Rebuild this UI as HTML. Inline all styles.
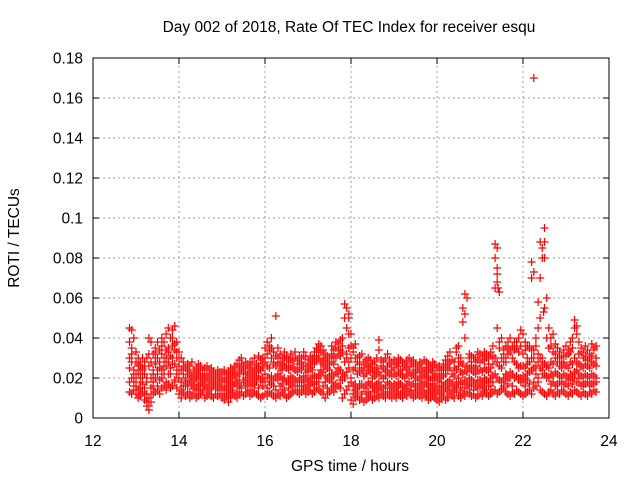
<!DOCTYPE html>
<html><head><meta charset="utf-8"><style>
body{margin:0;background:#fff;}
svg{display:block;font-family:"Liberation Sans",sans-serif;}
</style></head><body>
<svg id="chart" width="640" height="480">
<text x="349" y="32" font-size="15.5" text-anchor="middle">Day 002 of 2018, Rate Of TEC Index for receiver esqu</text>
<text x="350" y="471" font-size="15.5" text-anchor="middle">GPS time / hours</text>
<text transform="translate(19,238) rotate(-90)" font-size="15.5" text-anchor="middle">ROTI / TECUs</text>
<g id="grid"></g><g id="ticks"></g><g id="pts"></g>
<rect x="93" y="58" width="516" height="360" fill="none" stroke="#000" stroke-width="1"/>
</svg>
<script>
const xTicks=[12,14,16,18,20,22,24];
const yTicks=[0,0.02,0.04,0.06,0.08,0.1,0.12,0.14,0.16,0.18];
const yTickLabels=["0","0.02","0.04","0.06","0.08","0.1","0.12","0.14","0.16","0.18"];
const times=[12.85,12.9,12.95];
for(let h=13;h<=23;h++){for(let k=0;k<20;k++){const t=+(h+k*0.05).toFixed(2);if(t<=23.7)times.push(t);}}
const rotiLow=[.013,.012,.014,
.012,.010,.011,.013,.009,.006,.004,.008,.012,.013,.014,.012,.015,.016,.014,.017,.015,.016,.018,.015,
.012,.010,.013,.011,.012,.010,.011,.012,.010,.011,.012,.013,.010,.011,.012,.011,.010,.012,.011,.012,
.010,.009,.011,.008,.010,.012,.011,.010,.012,.013,.011,.012,.013,.011,.012,.013,.012,.011,.010,.011,
.012,.011,.013,.012,.011,.010,.012,.011,.013,.012,.010,.011,.012,.013,.014,.013,.012,.013,.014,.012,
.013,.014,.012,.013,.015,.014,.013,.012,.010,.012,.013,.014,.013,.015,.016,.015,.010,.012,.014,.016,
.009,.007,.010,.011,.009,.010,.008,.009,.010,.011,.009,.010,.011,.010,.012,.011,.010,.012,.011,.010,
.011,.010,.012,.011,.010,.012,.011,.013,.012,.010,.011,.012,.011,.010,.012,.011,.009,.010,.011,.010,
.009,.008,.010,.011,.009,.010,.012,.011,.010,.013,.011,.010,.012,.011,.013,.012,.011,.012,.010,.011,
.012,.011,.013,.012,.011,.012,.013,.014,.012,.013,.014,.015,.013,.012,.011,.013,.012,.014,.013,.012,
.011,.012,.013,.014,.012,.015,.016,.018,.014,.013,.012,.011,.013,.014,.012,.011,.013,.012,.014,.013,
.012,.011,.013,.012,.014,.013,.012,.011,.013,.012,.011,.013,.012,.014,.013];
const rotiMid1=[.030,.020,.018,
.016,.022,.018,.020,.015,.012,.010,.015,.018,.020,.022,.025,.024,.022,.026,.028,.025,.030,.027,.024,
.020,.018,.016,.019,.017,.018,.016,.017,.015,.016,.018,.017,.016,.015,.017,.018,.016,.015,.017,.016,
.015,.016,.014,.015,.017,.016,.018,.017,.019,.016,.018,.020,.019,.017,.018,.020,.018,.021,.019,.020,
.022,.020,.018,.021,.019,.020,.022,.021,.019,.020,.018,.019,.021,.020,.019,.018,.020,.019,.021,.020,
.019,.020,.018,.021,.020,.022,.024,.023,.021,.020,.019,.022,.021,.023,.025,.024,.022,.021,.023,.025,
.018,.016,.017,.015,.016,.017,.015,.016,.018,.017,.015,.016,.017,.018,.016,.015,.016,.018,.017,.016,
.017,.016,.018,.017,.016,.015,.017,.018,.016,.017,.016,.015,.017,.016,.018,.017,.016,.015,.017,.016,
.015,.016,.014,.016,.017,.018,.019,.017,.016,.018,.020,.018,.017,.019,.018,.020,.019,.018,.017,.019,
.019,.018,.020,.019,.018,.020,.021,.022,.020,.019,.018,.020,.022,.021,.023,.022,.020,.021,.019,.020,
.021,.020,.022,.023,.024,.025,.026,.028,.025,.024,.022,.021,.020,.022,.021,.023,.022,.021,.020,.022,
.021,.020,.022,.021,.023,.024,.022,.021,.020,.022,.021,.020,.022,.021,.020];
const rotiMid2=[.038,.028,.024,
.022,.026,.020,.024,.022,.018,.026,.020,.024,.027,.030,.028,.032,.030,.034,.033,.031,.036,.034,.030,
.026,.024,.022,.020,.022,.020,.021,.019,.020,.021,.019,.020,.021,.020,.019,.021,.020,.018,.020,.019,
.019,.020,.018,.019,.021,.020,.022,.021,.023,.024,.022,.025,.023,.021,.024,.025,.023,.026,.024,.025,
.028,.026,.025,.030,.027,.026,.028,.025,.024,.026,.025,.024,.026,.025,.024,.023,.025,.024,.026,.024,
.023,.025,.024,.027,.029,.030,.028,.027,.026,.025,.024,.028,.027,.030,.032,.031,.033,.028,.032,.035,
.030,.024,.025,.022,.023,.024,.021,.022,.024,.023,.020,.021,.022,.023,.021,.020,.021,.023,.022,.021,
.022,.021,.023,.022,.021,.020,.022,.023,.021,.022,.020,.019,.021,.020,.022,.021,.020,.019,.021,.020,
.019,.020,.018,.021,.022,.024,.025,.022,.021,.024,.026,.023,.022,.024,.023,.025,.024,.023,.022,.024,
.024,.023,.025,.024,.023,.025,.027,.030,.028,.026,.025,.028,.030,.032,.034,.030,.028,.027,.025,.026,
.026,.025,.027,.028,.030,.034,.036,.032,.030,.028,.027,.026,.025,.028,.027,.030,.028,.026,.025,.027,
.026,.025,.028,.027,.030,.028,.027,.026,.025,.027,.026,.025,.028,.027,.026];
const rotiHigh=[.045,.044,.040,
.033,.030,.028,.030,.028,.030,.040,.038,.032,.035,.038,.034,.040,.038,.042,.045,.040,.044,.046,.038,
.033,.030,.028,.025,.027,.026,.028,.024,.025,.027,.026,.024,.025,.026,.024,.025,.023,.022,.024,.023,
.023,.024,.022,.023,.025,.024,.026,.027,.029,.030,.026,.028,.027,.025,.028,.030,.027,.031,.029,.030,
.035,.038,.036,.040,.033,.051,.035,.032,.030,.033,.031,.029,.032,.030,.033,.029,.031,.030,.033,.031,
.029,.031,.030,.033,.035,.037,.036,.034,.032,.031,.030,.036,.034,.038,.037,.039,.040,.057,.055,.050,
.042,.035,.037,.030,.031,.032,.028,.029,.030,.029,.027,.028,.030,.039,.029,.028,.030,.032,.029,.028,
.029,.028,.030,.029,.028,.027,.029,.030,.028,.029,.027,.026,.028,.027,.029,.028,.027,.026,.028,.027,
.025,.026,.024,.027,.029,.031,.033,.029,.028,.035,.036,.030,.048,.062,.060,.032,.031,.030,.030,.033,
.032,.031,.033,.032,.031,.033,.036,.087,.072,.063,.040,.032,.036,.038,.040,.036,.034,.038,.040,.044,
.042,.038,.036,.035,.078,.073,.040,.058,.088,.085,.095,.060,.045,.040,.042,.037,.035,.033,.031,.034,
.036,.034,.038,.040,.049,.046,.038,.035,.033,.036,.034,.032,.037,.035,.036];
const rotiJagA=[.025,.035,.016,
.028,.014,.024,.017,.026,.008,.032,.012,.022,.030,.016,.034,.020,.038,.018,.035,.022,.040,.019,.033,
.022,.014,.026,.016,.024,.013,.021,.015,.023,.012,.022,.014,.020,.013,.022,.015,.019,.012,.021,.014,
.018,.012,.020,.011,.022,.014,.024,.013,.025,.015,.023,.016,.026,.014,.022,.017,.027,.015,.024,.016,
.030,.015,.034,.017,.028,.014,.030,.016,.027,.014,.029,.015,.028,.016,.030,.014,.027,.016,.031,.015,
.026,.016,.028,.017,.031,.018,.033,.016,.029,.015,.027,.018,.031,.017,.034,.019,.036,.020,.045,.028,
.036,.012,.030,.013,.027,.012,.025,.013,.026,.012,.024,.013,.025,.014,.026,.012,.024,.013,.027,.012,
.025,.013,.026,.012,.024,.014,.025,.013,.027,.012,.023,.014,.025,.013,.024,.012,.023,.013,.025,.012,
.022,.012,.021,.013,.026,.014,.028,.013,.025,.015,.030,.014,.027,.015,.026,.016,.028,.014,.026,.015,
.028,.015,.029,.014,.027,.016,.031,.080,.068,.035,.030,.016,.028,.017,.033,.016,.038,.035,.033,.018,
.032,.016,.030,.017,.034,.018,.040,.020,.050,.022,.055,.020,.035,.017,.033,.016,.030,.018,.028,.017,
.031,.016,.033,.017,.045,.018,.032,.016,.030,.017,.029,.016,.031,.017,.030];
const rotiJagB=[.018,.032,.022,
.020,.027,.015,.025,.012,.020,.006,.028,.016,.033,.024,.019,.036,.026,.030,.022,.040,.027,.037,.022,
.030,.018,.024,.019,.016,.023,.018,.022,.014,.025,.016,.021,.018,.024,.014,.020,.017,.022,.015,.020,
.014,.022,.016,.020,.013,.023,.017,.021,.016,.027,.018,.022,.017,.028,.016,.023,.019,.025,.018,.027,
.018,.032,.020,.035,.016,.031,.019,.028,.017,.030,.018,.026,.017,.029,.018,.027,.016,.028,.018,.026,
.017,.027,.020,.029,.018,.034,.021,.030,.018,.028,.020,.032,.016,.035,.022,.034,.019,.050,.030,.042,
.020,.033,.014,.028,.017,.025,.015,.027,.013,.025,.016,.024,.014,.034,.015,.025,.013,.026,.015,.024,
.014,.027,.015,.024,.013,.026,.015,.024,.014,.026,.013,.024,.015,.023,.014,.025,.013,.024,.014,.022,
.013,.024,.012,.025,.015,.027,.016,.029,.014,.033,.017,.028,.055,.040,.017,.030,.016,.025,.016,.029,
.016,.029,.017,.030,.016,.031,.018,.065,.045,.038,.018,.034,.019,.035,.020,.036,.020,.038,.020,.036,
.018,.034,.019,.036,.070,.030,.022,.045,.070,.030,.080,.040,.020,.036,.018,.032,.017,.030,.018,.031,
.017,.032,.019,.035,.020,.042,.018,.033,.017,.031,.018,.030,.017,.034,.018];
const outlierTimes=[22.25,21.4,21.4,22.45,22.5,20.65,17.95,21.42,22.48];
const outlierValues=[0.17,0.085,0.075,0.08,0.088,0.052,0.052,0.065,0.053];

const X0=93,X1=609,Y0=418,Y1=58;
const xs=v=>X0+(v-12)/12*(X1-X0);
const ys=v=>Y0-v/0.18*(Y0-Y1);
const NS="http://www.w3.org/2000/svg";
function mk(tag,attrs,parent){const e=document.createElementNS(NS,tag);for(const k in attrs)e.setAttribute(k,attrs[k]);parent.appendChild(e);return e;}
const grid=document.getElementById('grid'),ticks=document.getElementById('ticks'),pts=document.getElementById('pts');
xTicks.forEach((t,i)=>{
  const x=xs(t);
  if(i>0&&i<xTicks.length-1){const g=mk('line',{x1:x,x2:x,y1:Y0,y2:Y1,stroke:'#a0a0a0','stroke-dasharray':'2,3'},grid);
  
  }
  mk('line',{x1:x,x2:x,y1:Y0,y2:Y0-6,stroke:'#000'},ticks);
  mk('line',{x1:x,x2:x,y1:Y1,y2:Y1+6,stroke:'#000'},ticks);
  const l=mk('text',{x:x,y:Y0+28,'font-size':15.5,'text-anchor':'middle'},ticks);
  l.textContent=t;
  
  
});
yTicks.forEach((t,i)=>{
  const y=ys(t);
  if(i>0&&i<yTicks.length-1){const g=mk('line',{x1:X0,x2:X1,y1:y,y2:y,stroke:'#a0a0a0','stroke-dasharray':'2,3'},grid);
  
  }
  mk('line',{x1:X0,x2:X0+6,y1:y,y2:y,stroke:'#000'},ticks);
  mk('line',{x1:X1,x2:X1-6,y1:y,y2:y,stroke:'#000'},ticks);
  const l=mk('text',{x:X0-10,y:y+5.5,'font-size':15.5,'text-anchor':'end'},ticks);
  l.textContent=yTickLabels[i];
  
  
});
let d='';
function plus(t,v){const x=xs(t),y=ys(v);d+=`M${(x-4).toFixed(1)} ${y.toFixed(1)}h8M${x.toFixed(1)} ${(y-4).toFixed(1)}v8`;}
[rotiLow,rotiMid1,rotiMid2,rotiHigh,rotiJagA,rotiJagB].forEach(s=>s.forEach((v,i)=>{if(i<times.length)plus(times[i],v);}));
outlierTimes.forEach((t,i)=>plus(t,outlierValues[i]));
const p=mk('path',{d:d,stroke:'#ff0000','stroke-width':1.2,fill:'none'},pts);


</script>
</body></html>
